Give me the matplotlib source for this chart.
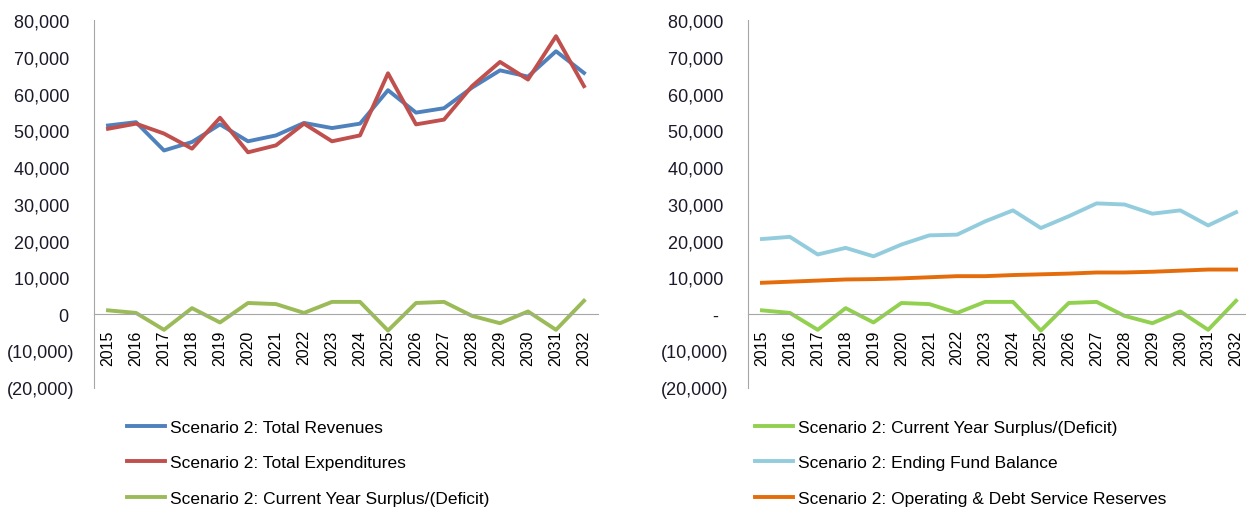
import numpy as np
import matplotlib.pyplot as plt
from matplotlib.ticker import FuncFormatter

plt.rcParams['font.family'] = ['Liberation Sans', 'DejaVu Sans']

# fiscal years on the category axis
years = [str(y) for y in range(2015, 2033)]

# left chart
revenues = [51300, 52200, 44500, 46800, 51600, 47000, 48600, 52000, 50600,
            51800, 60900, 54800, 56000, 61600, 66300, 64600, 71500, 65600]
expenditures = [50400, 51800, 49100, 45000, 53400, 44000, 45900, 51800, 47000,
                48600, 65500, 51600, 52900, 62000, 68600, 63800, 75600, 62000]
surplus = [1000, 300, -4300, 1600, -2300, 3000, 2700, 300, 3300,
           3300, -4500, 3000, 3300, -500, -2500, 700, -4300, 3600]

# right chart
fund_balance = [20400, 21000, 16200, 18000, 15700, 18900, 21400, 21600, 25200,
                28200, 23400, 26600, 30100, 29800, 27300, 28200, 24100, 27700]
reserves = [8500, 8800, 9100, 9400, 9500, 9700, 10000, 10300, 10300,
            10600, 10800, 11000, 11300, 11300, 11500, 11800, 12100, 12100]

yticks = np.arange(-20000, 80001, 10000)


# excel style accounting labels
def fmt_zero(v, pos):
    if v < 0:
        return '({:,.0f})'.format(-v)
    return '{:,.0f} '.format(v)


def fmt_dash(v, pos):
    if v < 0:
        return '({:,.0f})'.format(-v)
    if v == 0:
        return '-  '
    return '{:,.0f} '.format(v)


def style_axis(ax, formatter):
    for s in ['top', 'right']:
        ax.spines[s].set_visible(False)
    ax.spines['left'].set_color('#a6a6a6')
    ax.spines['bottom'].set_color('#a6a6a6')
    ax.spines['bottom'].set_position(('data', 0))
    ax.set_xlim(-0.5, len(years) - 0.5)
    ax.set_ylim(-20000, 80000)
    ax.set_yticks(yticks)
    ax.yaxis.set_major_formatter(FuncFormatter(formatter))
    ax.set_xticks(np.arange(len(years)))
    ax.set_xticklabels(years)
    ax.tick_params(axis='y', labelsize=13, length=0, pad=14, labelcolor='#1a1a2a')
    ax.tick_params(axis='x', labelsize=11.5, length=0, pad=11, labelrotation=90)


fig = plt.figure(figsize=(12.46, 5.10), dpi=100)
ax1 = fig.add_axes([94 / 1246, 0.2382, 504 / 1246, 0.7206])
ax2 = fig.add_axes([748 / 1246, 0.2382, 502 / 1246, 0.7206])

x = np.arange(len(years))
l1, = ax1.plot(x, revenues, color='#4f81bd', lw=2.8, label='Scenario 2: Total Revenues')
l2, = ax1.plot(x, expenditures, color='#c0504d', lw=2.8, label='Scenario 2: Total Expenditures')
l3, = ax1.plot(x, surplus, color='#9bbb59', lw=2.8, label='Scenario 2: Current Year Surplus/(Deficit)')
style_axis(ax1, fmt_zero)

r1, = ax2.plot(x, surplus, color='#92d050', lw=2.8, label='Scenario 2: Current Year Surplus/(Deficit)')
r2, = ax2.plot(x, fund_balance, color='#93cddd', lw=2.8, label='Scenario 2: Ending Fund Balance')
r3, = ax2.plot(x, reserves, color='#e46c0a', lw=2.8, label='Scenario 2: Operating & Debt Service Reserves')
style_axis(ax2, fmt_dash)

leg_kw = dict(loc='upper left', frameon=False, fontsize=12.5, handlelength=2.2,
              handletextpad=0.25, labelspacing=1.16, borderpad=0, borderaxespad=0)
fig.legend(handles=[l1, l2, l3], bbox_to_anchor=(127 / 1246, 1 - 421 / 510), **leg_kw)
fig.legend(handles=[r1, r2, r3], bbox_to_anchor=(755 / 1246, 1 - 421 / 510), **leg_kw)

fig.savefig('out.png', dpi=100)
